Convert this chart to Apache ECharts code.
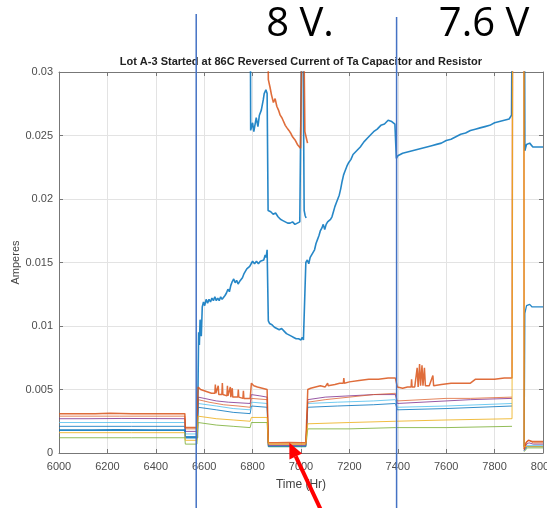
<!DOCTYPE html>
<html>
<head>
<meta charset="utf-8">
<script src="https://cdn.jsdelivr.net/npm/echarts@6/dist/echarts.min.js"></script>
<style>
    html, body { margin: 0; padding: 0; background: #fff; }
    #main { width: 547px; height: 508px; }
</style>
</head>
<body>
<div id="main"></div>
<script>
// time axis (Hr) and current axis (A)
var timeMin = 6000, timeMax = 8000, timeStep = 200;
var ampMin = 0, ampMax = 0.03, ampStep = 0.005;
// voltage change markers
var markTimes = [6567, 7395];
var markLabels = ['8 V.', '7.6 V'];
var arrowPoint = [6952, 0.0008];

// lower traces
var orangeLow = [[6000,0.0031],[6150,0.0031],[6210,0.00313],[6300,0.0031],[6520,0.0031],[6522,0.0020],[6570,0.0020],
    [6575,0.0052],[6585,0.0050],[6600,0.0049],[6615,0.0048],[6630,0.0047],[6644,0.0047],[6646,0.0054],[6648,0.0047],
    [6656,0.0046],[6658,0.0053],[6660,0.0046],[6673,0.0046],[6675,0.0055],[6677,0.0046],[6694,0.0045],[6696,0.0053],[6698,0.0045],
    [6706,0.0045],[6708,0.0052],[6710,0.0044],[6714,0.0044],[6716,0.0051],[6718,0.0044],[6739,0.0044],[6741,0.0050],[6743,0.0044],
    [6760,0.0043],[6762,0.0049],[6764,0.0043],[6790,0.0043],
    [6795,0.0055],[6805,0.0053],[6820,0.0052],[6840,0.0051],[6860,0.0050],
    [6865,0.0008],[6900,0.0008],[6950,0.00082],[7000,0.0008],[7020,0.0008],
    [7028,0.0050],[7040,0.0051],[7060,0.0052],[7080,0.0053],[7100,0.0052],[7110,0.0055],[7112,0.0053],[7140,0.0054],[7160,0.0055],
    [7175,0.0055],[7177,0.0059],[7179,0.0055],[7200,0.0056],[7240,0.0057],[7280,0.0058],[7320,0.0058],[7360,0.0059],[7390,0.0059],
    [7398,0.0052],[7420,0.0051],[7440,0.0052],[7455,0.0052],[7457,0.0058],[7459,0.0052],[7470,0.0052],[7480,0.0067],[7484,0.0052],
    [7490,0.0070],[7494,0.0053],[7500,0.0069],[7504,0.0053],[7510,0.0067],[7514,0.0053],[7530,0.0053],[7545,0.0061],[7548,0.0053],
    [7580,0.0054],[7620,0.0055],[7660,0.0055],[7700,0.0055],[7720,0.0058],[7760,0.0058],[7800,0.0058],[7840,0.0059],[7872,0.0059],
    [7875,0.04],[7921,0.04],[7922,0.0003],[7930,0.0008],[7940,0.0010],[7955,0.0009],[8000,0.0009]];
var darkRedLow = [[6000,0.0029],[6250,0.0029],[6520,0.0029],[6522,0.0019],[6570,0.0019],
    [6575,0.0042],[6620,0.0040],[6680,0.0038],[6740,0.0037],[6790,0.0036],[6795,0.0043],[6860,0.0042],
    [6865,0.0007],[7020,0.0007],[7028,0.0040],[7100,0.0042],[7200,0.0044],[7300,0.0046],[7390,0.0047],
    [7398,0.0041],[7500,0.0042],[7600,0.0043],[7700,0.0043],[7872,0.0044],[7873,null],
    [7922,0.0003],[7932,0.0009],[7942,0.0010],[7960,0.0008],[8000,0.0008]];
var purpleLow = [[6000,0.0027],[6120,0.0027],[6260,0.00272],[6520,0.0027],[6522,0.0017],[6570,0.0017],
    [6575,0.0044],[6600,0.0043],[6650,0.0041],[6700,0.0040],[6790,0.0039],[6795,0.0046],[6830,0.0045],[6860,0.0044],
    [6865,0.0006],[7020,0.0006],[7028,0.0042],[7100,0.0044],[7200,0.0045],[7300,0.0046],[7390,0.0046],
    [7398,0.0039],[7500,0.0040],[7600,0.0041],[7700,0.0042],[7872,0.0043],[7873,null],
    [7922,0.0002],[7932,0.0007],[7942,0.0008],[7960,0.0007],[8000,0.0007]];
var lightBlueLow = [[6000,0.0024],[6300,0.0024],[6520,0.0024],[6522,0.0015],[6570,0.0015],
    [6575,0.0039],[6650,0.0037],[6720,0.0035],[6790,0.0034],[6795,0.0040],[6860,0.0039],
    [6865,0.0006],[7020,0.0006],[7028,0.0039],[7150,0.0040],[7300,0.0041],[7390,0.0042],
    [7398,0.0036],[7600,0.0037],[7872,0.0039],[7873,null],
    [7922,0.0002],[7935,0.0006],[8000,0.0006]];
var blueLow = [[6000,0.0021],[6300,0.0021],[6520,0.0021],[6522,0.0013],[6570,0.0013],
    [6575,0.0036],[6650,0.0034],[6720,0.0032],[6790,0.0031],[6795,0.0037],[6860,0.0036],
    [6865,0.0005],[7020,0.0005],[7028,0.0036],[7150,0.0037],[7300,0.0038],[7390,0.0039],
    [7398,0.0034],[7600,0.0035],[7872,0.0037],[7873,null],
    [7922,0.0002],[7935,0.0005],[8000,0.0005]];
var greenLow = [[6000,0.0012],[6300,0.0012],[6520,0.0012],[6522,0.0007],[6570,0.0007],
    [6575,0.0024],[6650,0.0022],[6720,0.0021],[6790,0.0020],[6795,0.0024],[6860,0.0024],
    [6865,0.0005],[7020,0.0005],[7028,0.0019],[7200,0.0019],[7390,0.0020],
    [7398,0.0020],[7600,0.0020],[7872,0.0021],[7873,null],
    [7922,0.0001],[7935,0.0004],[8000,0.0004]];
var yellowLow = [[6000,0.0016],[6300,0.0016],[6520,0.0016],[6522,0.0010],[6570,0.0010],
    [6575,0.0029],[6650,0.0027],[6720,0.0026],[6790,0.0025],[6795,0.0028],[6860,0.0028],
    [6865,0.0007],[7020,0.0007],[7028,0.0023],[7200,0.0024],[7390,0.0025],
    [7398,0.0025],[7600,0.0026],[7872,0.0027],[7875,0.04],[7921,0.04],[7922,0.0005],[8000,0.0005]];

// upper traces
var blueMain = [[6000,0.0018],[6140,0.0018],[6230,0.00182],[6380,0.0018],[6520,0.0018],[6522,0.0012],[6572,0.0012],
    [6577,0.0095],[6580,0.0085],[6583,0.0105],[6588,0.0092],[6592,0.0115],[6597,0.0119],[6602,0.0116],[6608,0.0121],
    [6614,0.0118],[6620,0.0121],[6626,0.0119],[6632,0.0122],[6638,0.0120],[6644,0.0123],[6650,0.0120],[6656,0.0122],
    [6662,0.0120],[6668,0.0123],[6674,0.0121],[6680,0.0122],[6686,0.0124],[6692,0.0126],[6698,0.0129],[6704,0.0127],
    [6710,0.0132],[6716,0.0135],[6722,0.0137],[6728,0.0134],[6734,0.0136],[6740,0.0133],[6746,0.0135],[6752,0.0134],
    [6758,0.0138],[6764,0.0141],[6770,0.0143],[6776,0.0145],[6782,0.0144],[6788,0.0147],[6794,0.0149],[6800,0.0151],
    [6808,0.0149],[6816,0.0151],[6824,0.0149],[6832,0.0151],[6840,0.0150],[6846,0.0152],[6852,0.0156],[6856,0.0154],
    [6860,0.0160],
    [6865,0.0104],[6870,0.0102],[6880,0.0101],[6890,0.0099],[6900,0.0098],[6910,0.0097],[6920,0.0098],[6930,0.0096],
    [6940,0.0094],[6950,0.0093],[6960,0.0092],[6970,0.0091],[6980,0.0090],[6990,0.0090],[7000,0.0089],[7005,0.0091],
    [7010,0.0089],[7020,0.0150],[7026,0.0152],[7032,0.0149],[7038,0.0154],[7044,0.0155],[7050,0.0158],[7056,0.0160],
    [7062,0.0165],[7068,0.0168],[7074,0.0171],[7080,0.0175],[7086,0.0177],[7092,0.0180],[7098,0.0176],[7104,0.0180],
    [7110,0.0182],[7116,0.0181],[7122,0.0184],[7128,0.0186],[7134,0.0190],[7140,0.0194],[7146,0.0197],[7152,0.0200],
    [7158,0.0203],[7164,0.0208],[7170,0.0214],[7176,0.0219],[7182,0.0222],[7190,0.0226],[7198,0.0229],[7206,0.0231],
    [7215,0.0235],[7230,0.0238],[7245,0.0241],[7260,0.0245],
    [7275,0.0248],[7290,0.0251],[7300,0.0253],[7315,0.0255],[7330,0.0258],[7345,0.0259],[7360,0.0262],[7375,0.0261],
    [7388,0.0259],[7394,0.0232],[7400,0.0234],[7420,0.0236],[7440,0.0237],[7460,0.0238],[7480,0.0239],[7500,0.0240],
    [7520,0.0241],[7540,0.0242],[7560,0.0243],[7580,0.0244],[7600,0.0246],[7620,0.0247],[7640,0.0249],[7660,0.0251],
    [7680,0.0252],[7700,0.0254],[7720,0.0255],[7740,0.0256],[7760,0.0257],[7780,0.0258],[7800,0.0260],[7820,0.0261],
    [7840,0.0262],[7860,0.0263],[7870,0.0266],[7874,0.04],[7923,0.04],[7925,0.0238],[7932,0.0243],[7945,0.0244],
    [7958,0.0241],[8000,0.0241]];
var blueUpper = [[6790,0.04],[6792,0.0254],[6800,0.0260],[6805,0.0253],[6815,0.0264],[6822,0.0257],[6828,0.0266],
    [6836,0.0270],[6844,0.0278],[6848,0.0283],[6855,0.0286],[6860,0.0283],[6864,0.0191],[6875,0.0190],[6885,0.0188],
    [6895,0.0189],[6905,0.0186],[6915,0.0184],[6925,0.0183],[6935,0.0182],[6945,0.0181],[6955,0.0181],[6965,0.0182],
    [6975,0.0180],[6985,0.0181],[6995,0.0182],[7003,0.0183],[7006,0.04],[7010,0.04],[7013,0.0191],[7017,0.0187],[7021,0.0185]];
var blueLate = [[7922,0.0005],[7925,0.0110],[7932,0.0116],[7945,0.0117],[7955,0.0115],[8000,0.0115]];
var orangeUpper = [[6860,0.04],[6865,0.0294],[6872,0.0288],[6878,0.0282],[6886,0.0276],[6893,0.0279],[6900,0.0273],
    [6907,0.0270],[6914,0.0266],[6921,0.0264],[6928,0.0261],[6935,0.0258],[6942,0.0256],[6950,0.0254],[6957,0.0252],
    [6965,0.0249],[6971,0.0250],[6977,0.0246],[6985,0.0243],[6992,0.0244],[6998,0.0240],[7005,0.0239],[7008,0.04],
    [7012,0.04],[7016,0.0253],[7022,0.0248],[7027,0.0244]];

var chart = echarts.init(document.getElementById('main'));

var makeLine = function(data, color, width, opacity){
    return {
        type: 'line',
        data: data,
        showSymbol: false,
        connectNulls: false,
        lineStyle: { color: color, width: width, opacity: opacity },
        itemStyle: { color: color },
        clip: true
    };
};

var gridLine = { show: true, lineStyle: { color: '#e3e3e3', width: 1 } };
var boxLine = { show: true, onZero: false, lineStyle: { color: '#777', width: 1 } };
var tickIn = { show: true, inside: true, length: 4, lineStyle: { color: '#777' } };

var option = {
    animation: false,
    backgroundColor: '#fff',
    title: {
        text: 'Lot A-3 Started at 86C Reversed Current of Ta Capacitor and Resistor',
        left: '55%',
        textAlign: 'center',
        top: 56,
        padding: 0,
        textStyle: { fontFamily: 'Liberation Sans', fontSize: 11, fontWeight: 'bold', color: '#222' }
    },
    grid: { left: 59, right: 4, top: 72, bottom: 55, outerBoundsMode: 'none', containLabel: false },
    xAxis: [{
        type: 'value', min: timeMin, max: timeMax, interval: timeStep,
        name: 'Time (Hr)', nameLocation: 'middle', nameGap: 26,
        nameTextStyle: { fontFamily: 'Liberation Sans', fontSize: 12, color: '#444' },
        axisLine: boxLine, axisTick: tickIn, splitLine: gridLine,
        axisLabel: { fontFamily: 'Liberation Sans', fontSize: 11, color: '#4d4d4d', margin: 8,
            formatter: function(v){ return String(v); } }
    }, {
        type: 'value', min: timeMin, max: timeMax, interval: timeStep, position: 'top',
        axisLine: boxLine, axisTick: tickIn, splitLine: { show: false }, axisLabel: { show: false }
    }],
    yAxis: [{
        type: 'value', min: ampMin, max: ampMax, interval: ampStep,
        name: 'Amperes', nameLocation: 'middle', nameGap: 38, nameMoveOverlap: false,
        nameTextStyle: { fontFamily: 'Liberation Sans', fontSize: 11, color: '#444' },
        axisLine: boxLine, axisTick: tickIn, splitLine: gridLine,
        axisLabel: { fontFamily: 'Liberation Sans', fontSize: 11, color: '#4d4d4d', margin: 6 }
    }, {
        type: 'value', min: ampMin, max: ampMax, interval: ampStep, position: 'right',
        axisLine: boxLine, axisTick: tickIn, splitLine: { show: false }, axisLabel: { show: false }
    }],
    series: [
        makeLine(greenLow, '#77AC30', 1, 0.8),
        makeLine(blueLow, '#0072BD', 1, 0.8),
        makeLine(lightBlueLow, '#4DBEEE', 1, 0.8),
        makeLine(purpleLow, '#7E2F8E', 1, 0.8),
        makeLine(darkRedLow, '#D95319', 1, 0.7),
        makeLine(blueMain, '#0072BD', 1.6, 0.85),
        makeLine(blueUpper, '#0072BD', 1.6, 0.85),
        makeLine(blueLate, '#0072BD', 1.3, 0.85),
        makeLine(orangeUpper, '#D95319', 1.6, 0.85),
        makeLine(orangeLow, '#D95319', 1.5, 0.85),
        makeLine(yellowLow, '#EDB120', 1, 0.85)
    ]
};
chart.setOption(option);

// overlays: voltage markers, labels and arrow placed from data positions
var graphics = [];
var topY = [14, 17];
for (var i = 0; i < markTimes.length; i++) {
    var px = chart.convertToPixel({ xAxisIndex: 0 }, markTimes[i]);
    graphics.push({
        type: 'line', z: 100,
        shape: { x1: px, y1: topY[i], x2: px, y2: 508 },
        style: { stroke: '#4472C4', lineWidth: 1.5 }
    });
}
graphics.push({
    type: 'text', z: 100, x: 300, y: 45,
    style: { text: markLabels[0], font: '40px "Open Sans"', fill: '#000', textAlign: 'center', textVerticalAlign: 'bottom' }
});
graphics.push({
    type: 'text', z: 100, x: 484, y: 45,
    style: { text: markLabels[1], font: '40px "Open Sans"', fill: '#000', textAlign: 'center', textVerticalAlign: 'bottom' }
});
var tip = chart.convertToPixel({ xAxisIndex: 0, yAxisIndex: 0 }, arrowPoint);
var tail = [tip[0] + 31, tip[1] + 66];
var dx = tip[0] - tail[0], dy = tip[1] - tail[1];
var len = Math.sqrt(dx * dx + dy * dy);
var ux = dx / len, uy = dy / len;
var bx = tip[0] - ux * 15, by = tip[1] - uy * 15;
graphics.push({
    type: 'line', z: 101,
    shape: { x1: tail[0], y1: tail[1], x2: bx, y2: by },
    style: { stroke: '#ff0000', lineWidth: 4 }
});
graphics.push({
    type: 'polygon', z: 101,
    shape: { points: [[tip[0], tip[1]], [bx - uy * 7, by + ux * 7], [bx + uy * 7, by - ux * 7]] },
    style: { fill: '#ff0000' }
});
chart.setOption({ graphic: graphics });
</script>
</body>
</html>
